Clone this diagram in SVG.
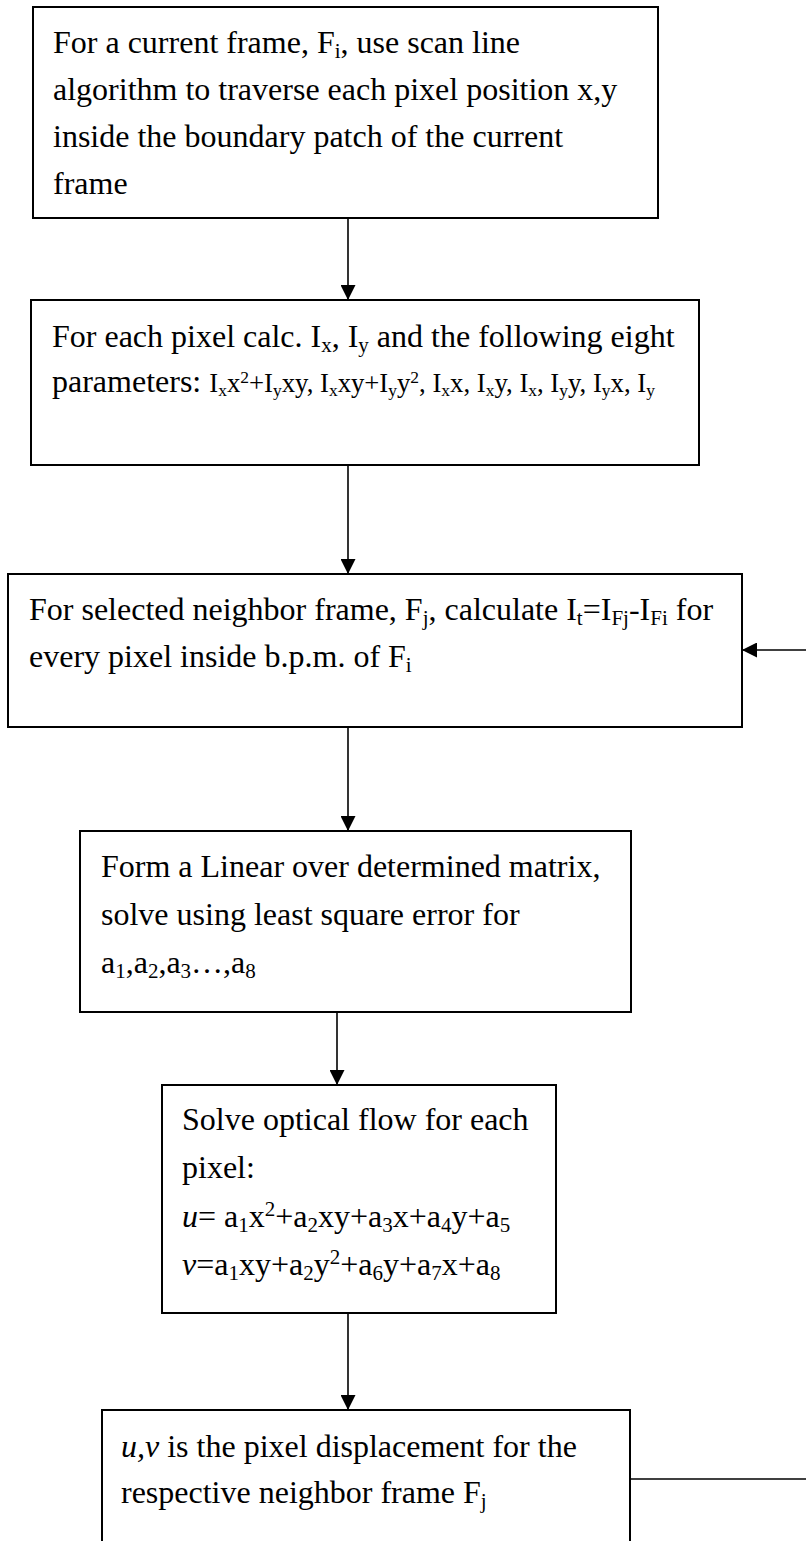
<svg xmlns="http://www.w3.org/2000/svg" width="806" height="1541" viewBox="0 0 806 1541">
<style>
.box{fill:#fff;stroke:#000;stroke-width:2}
.t{font-family:"Liberation Serif","Times New Roman",serif;font-size:32px;fill:#000}
.s{font-size:26.7px}
.sub{font-size:21px;baseline-shift:-5px}
.ssub{font-size:17.5px;baseline-shift:-4px}
.sup{font-size:21px;baseline-shift:11px}
.ssup{font-size:17.5px;baseline-shift:9px}
.i{font-style:italic}
.c{stroke:#000;stroke-width:1.6;fill:none}
</style>
<defs>
<marker id="ah" markerWidth="15" markerHeight="15" refX="15" refY="7.5" orient="auto" markerUnits="userSpaceOnUse">
<path d="M0,0 L15,7.5 L0,15 Z" fill="#000"/>
</marker>
</defs>
<g id="connectors">
<line class="c" x1="348" y1="218" x2="348" y2="300" marker-end="url(#ah)"/>
<line class="c" x1="348" y1="465" x2="348" y2="574" marker-end="url(#ah)"/>
<line class="c" x1="806" y1="650" x2="742" y2="650" marker-end="url(#ah)"/>
<line class="c" x1="348" y1="727" x2="348" y2="831" marker-end="url(#ah)"/>
<line class="c" x1="337" y1="1012" x2="337" y2="1085" marker-end="url(#ah)"/>
<line class="c" x1="348" y1="1313" x2="348" y2="1410" marker-end="url(#ah)"/>
<line class="c" x1="630" y1="1479" x2="806" y2="1479"/>
</g>
<g id="node1">
<rect class="box" x="33" y="7" width="625" height="211"/>
<text class="t" x="53" y="53">For a current frame, F<tspan class="sub">i</tspan>, use scan line</text>
<text class="t" x="53" y="100">algorithm to traverse each pixel position x,y</text>
<text class="t" x="53" y="147">inside the boundary patch of the current</text>
<text class="t" x="53" y="194">frame</text>
</g>
<g id="node2">
<rect class="box" x="31" y="300" width="668" height="165"/>
<text class="t" x="52" y="347">For each pixel calc. I<tspan class="sub">x</tspan>, I<tspan class="sub">y</tspan> and the following eight</text>
<text class="t" x="52" y="392">parameters: <tspan class="s">I<tspan class="ssub">x</tspan>x<tspan class="ssup">2</tspan>+I<tspan class="ssub">y</tspan>xy, I<tspan class="ssub">x</tspan>xy+I<tspan class="ssub">y</tspan>y<tspan class="ssup">2</tspan>, I<tspan class="ssub">x</tspan>x, I<tspan class="ssub">x</tspan>y, I<tspan class="ssub">x</tspan>, I<tspan class="ssub">y</tspan>y, I<tspan class="ssub">y</tspan>x, I<tspan class="ssub">y</tspan></tspan></text>
</g>
<g id="node3">
<rect class="box" x="8" y="574" width="734" height="153"/>
<text class="t" x="29" y="620">For selected neighbor frame, F<tspan class="sub">j</tspan>, calculate I<tspan class="sub">t</tspan>=I<tspan class="sub">Fj</tspan>-I<tspan class="sub">Fi</tspan> for</text>
<text class="t" x="29" y="667">every pixel inside b.p.m. of F<tspan class="sub">i</tspan></text>
</g>
<g id="node4">
<rect class="box" x="80" y="831" width="551" height="181"/>
<text class="t" x="101" y="877">Form a Linear over determined matrix,</text>
<text class="t" x="101" y="925">solve using least square error for</text>
<text class="t" x="101" y="973">a<tspan class="sub">1</tspan>,a<tspan class="sub">2</tspan>,a<tspan class="sub">3</tspan>…,a<tspan class="sub">8</tspan></text>
</g>
<g id="node5">
<rect class="box" x="162" y="1085" width="394" height="228"/>
<text class="t" x="182" y="1130">Solve optical flow for each</text>
<text class="t" x="182" y="1178">pixel:</text>
<text class="t" x="182" y="1227"><tspan class="i">u</tspan>= a<tspan class="sub">1</tspan>x<tspan class="sup">2</tspan>+a<tspan class="sub">2</tspan>xy+a<tspan class="sub">3</tspan>x+a<tspan class="sub">4</tspan>y+a<tspan class="sub">5</tspan></text>
<text class="t" x="182" y="1275"><tspan class="i">v</tspan>=a<tspan class="sub">1</tspan>xy+a<tspan class="sub">2</tspan>y<tspan class="sup">2</tspan>+a<tspan class="sub">6</tspan>y+a<tspan class="sub">7</tspan>x+a<tspan class="sub">8</tspan></text>
</g>
<g id="node6">
<rect class="box" x="102" y="1410" width="528" height="150"/>
<text class="t" x="121" y="1457"><tspan class="i">u,v</tspan> is the pixel displacement for the</text>
<text class="t" x="121" y="1503">respective neighbor frame F<tspan class="sub">j</tspan></text>
</g>
</svg>
